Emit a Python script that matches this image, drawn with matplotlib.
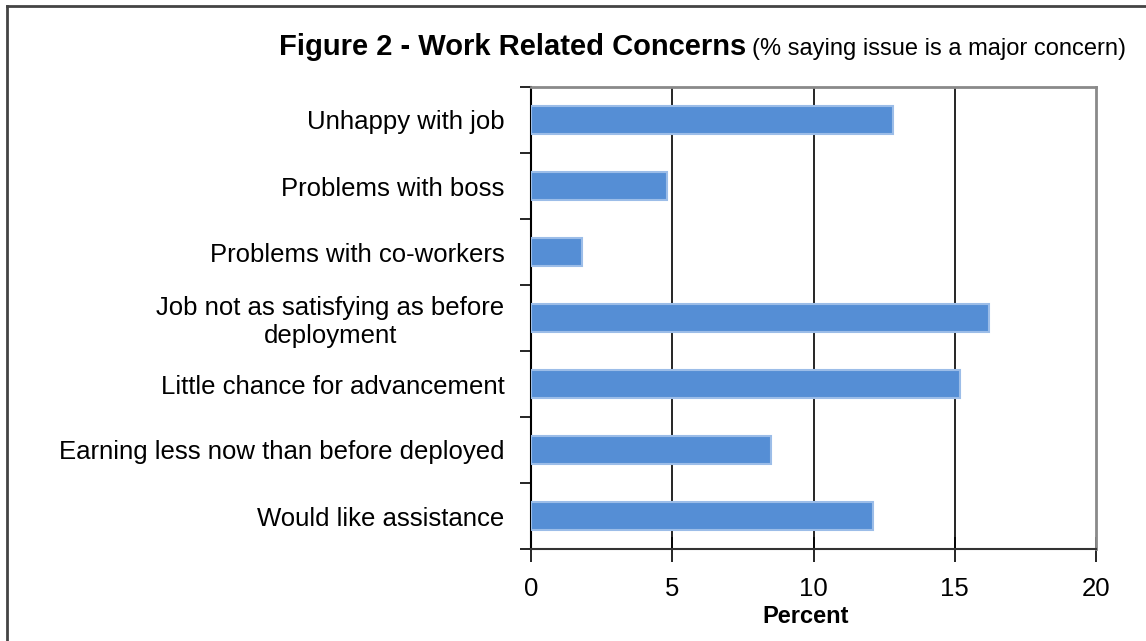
# Horizontal bar chart of work related concerns (% saying issue is a major concern)
import numpy as np
import matplotlib.pyplot as plt
from matplotlib.lines import Line2D

plt.rcParams.update({"font.family": ['Liberation Sans', 'DejaVu Sans']})

# Data, listed top to bottom as it appears on the chart
concerns = ['Unhappy with job',
            'Problems with boss',
            'Problems with co-workers',
            'Job not as satisfying as before\ndeployment',
            'Little chance for advancement',
            'Earning less now than before deployed',
            'Would like assistance']
percent = [12.8, 4.8, 1.8, 16.2, 15.2, 8.5, 12.1]
x_ticks = [0, 5, 10, 15, 20]

fig = plt.figure(figsize=(11.46, 6.41), dpi=100)
ax = fig.add_axes([531/1146, 1 - 549/641, (1096 - 531)/1146, (549 - 87)/641])

y = np.arange(len(concerns))
ax.barh(y, percent, height=0.42, color='#558ed5', edgecolor='#9cbde8',
        linewidth=1.5, zorder=3)

ax.set_ylim(len(concerns) - 0.5, -0.5)
ax.set_xlim(0, 20)

# Category labels sit between the boundary ticks
ax.set_yticks(y)
ax.set_yticklabels(concerns, fontsize=18.5, multialignment='center')
ax.tick_params(axis='y', which='major', length=0, pad=19)
ax.set_yticks(np.arange(len(concerns) + 1) - 0.5, minor=True)
ax.tick_params(axis='y', which='minor', length=8, width=1.2, direction='out')

ax.set_xticks(x_ticks)
ax.set_xticklabels([str(t) for t in x_ticks], fontsize=18.5)
ax.tick_params(axis='x', length=18, width=1.2, direction='inout', pad=11)
ax.set_xlabel('Percent', fontsize=17, fontweight='bold', va='top')
ax.xaxis.set_label_coords((806 - 531) / 565, -56 / 462)

# Vertical grid lines at the inner ticks
for t in x_ticks[1:-1]:
    ax.axvline(t, color='black', linewidth=1.2, zorder=1)

for side in ['top', 'right']:
    ax.spines[side].set_color('#8a8a8a')
    ax.spines[side].set_linewidth(2)
ax.spines['left'].set_color('black')
ax.spines['left'].set_linewidth(1.5)
ax.spines['bottom'].set_color('#333333')
ax.spines['bottom'].set_linewidth(1.5)

# Title in two parts: bold heading plus a smaller note
fig.text(746/1146, 1 - 55/641, 'Figure 2 - Work Related Concerns',
         fontsize=21, fontweight='bold', ha='right', va='baseline')
fig.text(752/1146, 1 - 55/641, '(% saying issue is a major concern)',
         fontsize=17, ha='left', va='baseline')

# Outer frame around the chart
fig.add_artist(Line2D([7/1146, 7/1146], [0, 1 - 6/641], transform=fig.transFigure,
                      color='#444444', linewidth=2))
fig.add_artist(Line2D([7/1146, 1], [1 - 6/641, 1 - 6/641], transform=fig.transFigure,
                      color='#444444', linewidth=2))

plt.savefig('out.png', dpi=100)
